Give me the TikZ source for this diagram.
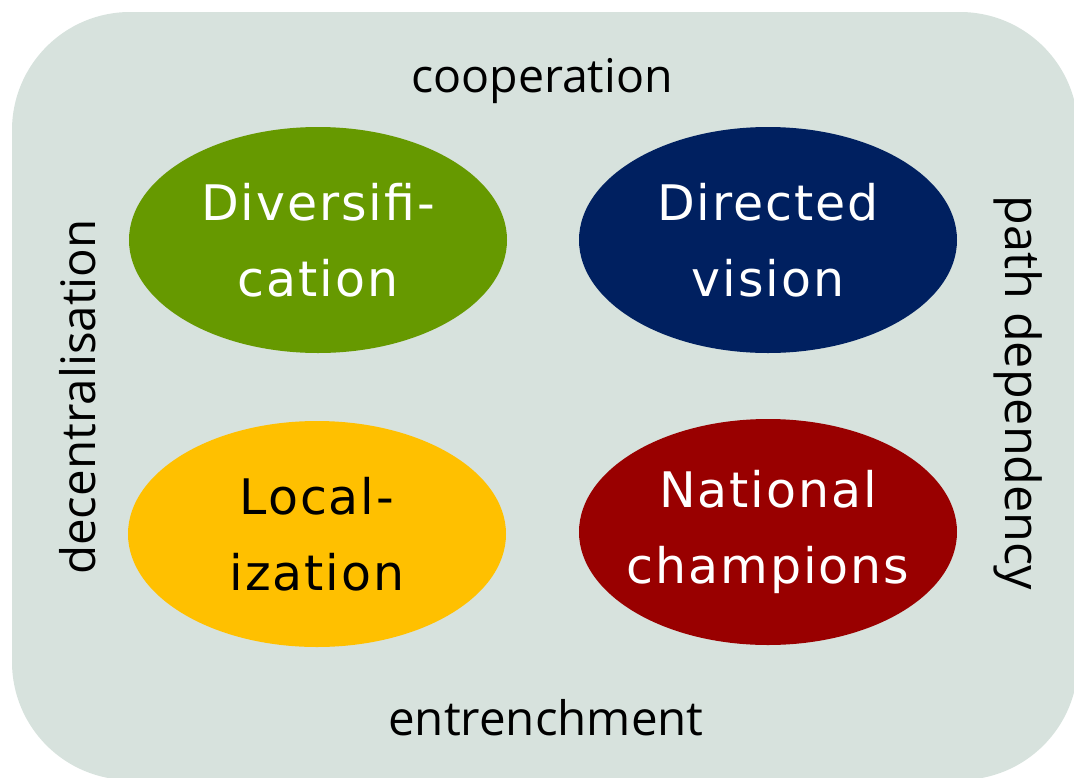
\documentclass[tikz,border=0pt]{standalone}
\usepackage{fontspec}
\setmainfont{Open Sans}
\newfontfamily\handfont[LetterSpace=4]{DejaVu Sans}
\usetikzlibrary{shapes.geometric}
\definecolor{bgcol}{RGB}{215,226,221}
\definecolor{greencol}{RGB}{102,153,0}
\definecolor{navycol}{RGB}{0,32,96}
\definecolor{yellowcol}{RGB}{255,192,0}
\definecolor{redcol}{RGB}{153,0,0}
\tikzset{
  blob/.style={ellipse, minimum width=378pt, minimum height=226pt, inner sep=0pt},
  blobtext/.style={align=center, inner sep=0pt, font=\handfont\fontsize{49}{76}\selectfont},
  edgelabel/.style={text=black, inner sep=0pt}
}
\begin{document}
\begin{tikzpicture}[x=1pt,y=-1pt]
\useasboundingbox (0,0) rectangle (1074,777);
\clip (0,0) rectangle (1074,777);
\fill[bgcol, rounded corners=118pt] (12,12) rectangle (1078,780);
\node[blob, fill=greencol] (div) at (318,240) {};
\node[blob, fill=navycol] (dir) at (768,240) {};
\node[blob, fill=yellowcol] (loc) at (317,534) {};
\node[blob, fill=redcol] (nat) at (768,532) {};
\node[blobtext, text=white] (divt) at (div) {Diversifi-\\cation};
\node[blobtext, text=white] (dirt) at (dir) {Directed\\vision};
\node[blobtext, text=black] (loct) at (loc) {Local-\\ization};
\node[blobtext, text=white] (natt) at (nat) {National\\champions};
\node[edgelabel, anchor=base, font=\fontsize{46.5}{50}\selectfont] (coop) at (542,92) {cooperation};
\node[edgelabel, anchor=base, font=\fontsize{47.5}{50}\selectfont] (entr) at (546,735) {entrenchment};
\node[edgelabel, rotate=90, font=\fontsize{47.5}{50}\selectfont] (dec) at (78,397) {decentralisation};
\node[edgelabel, rotate=-90, font=\fontsize{48.5}{50}\selectfont] (path) at (1018,393) {path dependency};
\end{tikzpicture}
\end{document}
